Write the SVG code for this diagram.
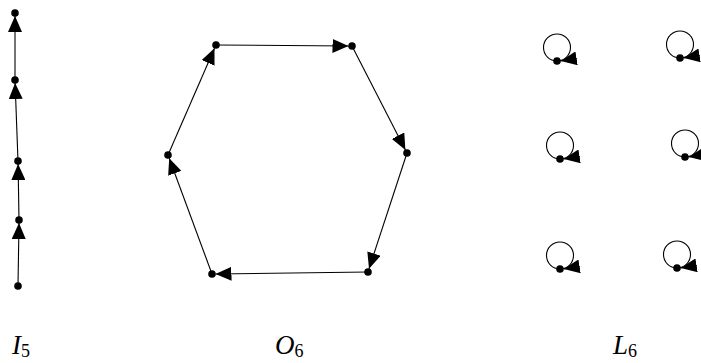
<svg xmlns="http://www.w3.org/2000/svg" width="701" height="363" viewBox="0 0 701 363">
<style>
.e{stroke:#000;stroke-width:1.1;fill:none;marker-end:url(#ah)}
.lp{stroke:#000;stroke-width:1.1;fill:none}
.n{fill:#000}
.lbl{font-family:"Liberation Serif","DejaVu Serif",serif;font-style:italic;font-size:27px;fill:#000}
.sub{font-style:normal;font-size:18px}
</style>
<defs>
<marker id="ah" markerUnits="userSpaceOnUse" viewBox="0 0 16 14" refX="16" refY="7" markerWidth="16" markerHeight="14" orient="auto">
<path d="M0,0 L16,7 L0,14 z" fill="#000"/>
</marker>
</defs>
<g id="connectors">
<line class="e" x1="18" y1="286" x2="19" y2="223"/>
<line class="e" x1="19" y1="220" x2="18.1" y2="164"/>
<line class="e" x1="18" y1="161" x2="15.1" y2="83"/>
<line class="e" x1="15" y1="80" x2="15" y2="16"/>
<line class="e" x1="216" y1="45" x2="348.5" y2="46"/>
<line class="e" x1="352" y1="46" x2="405.4" y2="149.9"/>
<line class="e" x1="407" y1="153" x2="369" y2="268.8"/>
<line class="e" x1="368" y1="272" x2="215.5" y2="274"/>
<line class="e" x1="212" y1="274" x2="169.2" y2="158.3"/>
<line class="e" x1="168" y1="155" x2="214.5" y2="48.2"/>
<circle class="lp" cx="557" cy="47.5" r="13.5"/>
<path class="e" d="M576.8,58.3 L560.8,61"/>
<circle class="lp" cx="680" cy="44.5" r="13.5"/>
<path class="e" d="M699.8,55.3 L683.8,58"/>
<circle class="lp" cx="560" cy="145.5" r="13.5"/>
<path class="e" d="M579.8,156.3 L563.8,159"/>
<circle class="lp" cx="685" cy="143.5" r="13.5"/>
<path class="e" d="M704.8,154.3 L688.8,157"/>
<circle class="lp" cx="560" cy="255.5" r="13.5"/>
<path class="e" d="M579.8,266.3 L563.8,269"/>
<circle class="lp" cx="677" cy="254.5" r="13.5"/>
<path class="e" d="M696.8,265.3 L680.8,268"/>
</g>
<g id="I5">
<circle id="i1" class="n" cx="15" cy="13" r="3.8"/>
<circle id="i2" class="n" cx="15" cy="80" r="3.8"/>
<circle id="i3" class="n" cx="18" cy="161" r="3.8"/>
<circle id="i4" class="n" cx="19" cy="220" r="3.8"/>
<circle id="i5" class="n" cx="18" cy="286" r="3.8"/>
</g>
<g id="O6">
<circle id="o1" class="n" cx="216" cy="45" r="3.8"/>
<circle id="o2" class="n" cx="352" cy="46" r="3.8"/>
<circle id="o3" class="n" cx="407" cy="153" r="3.8"/>
<circle id="o4" class="n" cx="368" cy="272" r="3.8"/>
<circle id="o5" class="n" cx="212" cy="274" r="3.8"/>
<circle id="o6" class="n" cx="168" cy="155" r="3.8"/>
</g>
<g id="L6">
<circle id="l1" class="n" cx="557" cy="61" r="3.8"/>
<circle id="l2" class="n" cx="680" cy="58" r="3.8"/>
<circle id="l3" class="n" cx="560" cy="159" r="3.8"/>
<circle id="l4" class="n" cx="685" cy="157" r="3.8"/>
<circle id="l5" class="n" cx="560" cy="269" r="3.8"/>
<circle id="l6" class="n" cx="677" cy="268" r="3.8"/>
</g>
<g id="labels">
<text class="lbl" x="12" y="354">I<tspan class="sub" dy="3">5</tspan></text>
<text class="lbl" x="275" y="354">O<tspan class="sub" dy="3">6</tspan></text>
<text class="lbl" x="613" y="354">L<tspan class="sub" dy="3">6</tspan></text>
</g>
</svg>
